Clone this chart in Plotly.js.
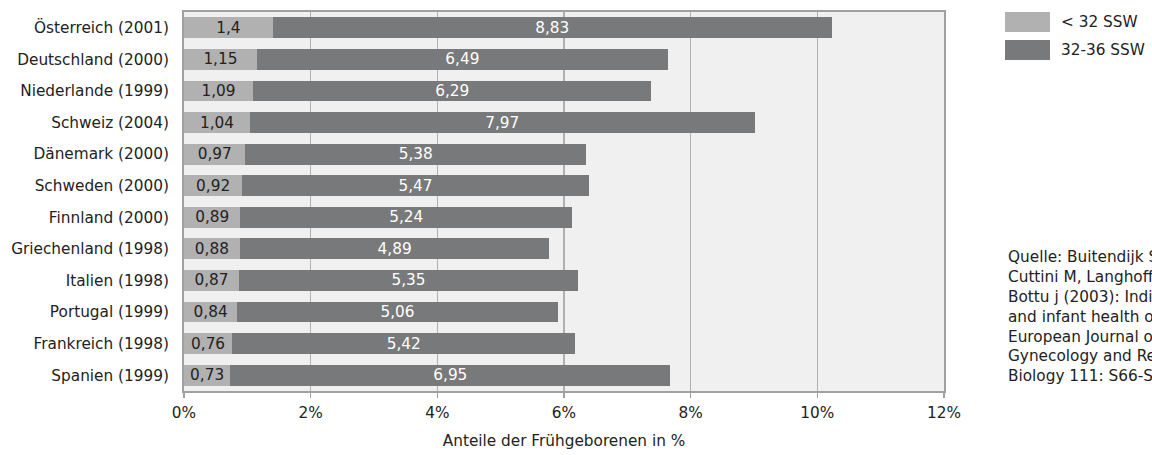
<!DOCTYPE html>
<html>
<head>
<meta charset="utf-8">
<script src="https://cdn.plot.ly/plotly-3.0.1.min.js"></script>
<style>html,body{margin:0;padding:0;background:#fff;}#chart{width:1152px;height:455px;}</style>
</head>
<body>
<div id="chart"></div>
<script>
var countries = ["Österreich (2001)","Deutschland (2000)","Niederlande (1999)","Schweiz (2004)","Dänemark (2000)","Schweden (2000)","Finnland (2000)","Griechenland (1998)","Italien (1998)","Portugal (1999)","Frankreich (1998)","Spanien (1999)"];
var under32 = [1.4,1.15,1.09,1.04,0.97,0.92,0.89,0.88,0.87,0.84,0.76,0.73];
var w32to36 = [8.83,6.49,6.29,7.97,5.38,5.47,5.24,4.89,5.35,5.06,5.42,6.95];
var seriesNames = ["< 32 SSW","32-36 SSW"];
var xTickVals = [0,2,4,6,8,10,12];
var xTickText = ["0%","2%","4%","6%","8%","10%","12%"];
var axisTitle = "Anteile der Frühgeborenen in %";
var sourceLines = ["Quelle: Buitendijk S, Zeitlin J,","Cuttini M, Langhoff-Roos J,","Bottu j (2003): Indicators of fetal","and infant health outcomes.","European Journal of Obstetrics,","Gynecology and Reproductive","Biology 111: S66-S77"];

var colLight = "#b1b1b1", colDark = "#78797a";
var FONT = "DejaVu Sans, sans-serif";
var FS = 15.3;
function fmt(v){ return String(v).replace('.', ','); }

var traces = [
  {type:'bar', orientation:'h', y:countries, x:under32, name:seriesNames[0],
   marker:{color:colLight, line:{width:0}}, text:under32.map(fmt), textposition:'inside',
   insidetextanchor:'middle', constraintext:'none', textangle:0,
   textfont:{family:FONT, size:FS, color:'#222'}, hoverinfo:'x+y', showlegend:false},
  {type:'bar', orientation:'h', y:countries, x:w32to36, name:seriesNames[1],
   marker:{color:colDark, line:{width:0}}, text:w32to36.map(fmt), textposition:'inside',
   insidetextanchor:'middle', constraintext:'none', textangle:0,
   textfont:{family:FONT, size:FS, color:'#ffffff'}, hoverinfo:'x+y', showlegend:false}
];

var L = 184, R = 944, T = 12, B = 391;
var W = R - L, H = B - T;
function px(x){ return (x - L)/W; }
function py(y){ return (B - y)/H; }

var layout = {
  width:1152, height:455,
  margin:{l:L, r:1152-R, t:T, b:455-B, pad:0},
  paper_bgcolor:'#ffffff', plot_bgcolor:'#eff0ef',
  barmode:'stack', bargap:0.34,
  font:{family:FONT, size:FS, color:'#222'},
  xaxis:{range:[0,12], tickvals:xTickVals, ticktext:xTickText, showgrid:true,
         gridcolor:'#b0b0b0', gridwidth:1.5, zeroline:false,
         showline:true, linecolor:'#a0a0a0', linewidth:2, mirror:true,
         ticks:'outside', ticklen:5, tickcolor:'#a0a0a0', tickwidth:1.5,
         ticklabelstandoff:2,
         tickfont:{family:FONT, size:FS, color:'#222'},
         title:{text:axisTitle, font:{family:FONT, size:FS, color:'#222'}, standoff:14},
         fixedrange:true},
  yaxis:{type:'category', autorange:'reversed', showgrid:false, zeroline:false,
         showline:true, linecolor:'#a0a0a0', linewidth:2, mirror:true,
         ticks:'', ticklabelstandoff:10,
         tickfont:{family:FONT, size:FS, color:'#222'}, fixedrange:true},
  shapes:[
    {type:'rect', xref:'paper', yref:'paper', x0:px(1005), x1:px(1050), y0:py(32), y1:py(12), fillcolor:colLight, line:{width:0}},
    {type:'rect', xref:'paper', yref:'paper', x0:px(1005), x1:px(1050), y0:py(60), y1:py(40), fillcolor:colDark, line:{width:0}}
  ],
  annotations:[
    {xref:'paper', yref:'paper', x:px(1059), y:py(22), xanchor:'left', yanchor:'middle', showarrow:false, text:seriesNames[0], font:{family:FONT, size:FS, color:'#222'}},
    {xref:'paper', yref:'paper', x:px(1059), y:py(50), xanchor:'left', yanchor:'middle', showarrow:false, text:seriesNames[1], font:{family:FONT, size:FS, color:'#222'}},
    {xref:'paper', yref:'paper', x:px(1006), y:py(246), xanchor:'left', yanchor:'top', align:'left', showarrow:false, text:sourceLines.join('<br>'), font:{family:FONT, size:FS, color:'#222'}}
  ]
};

Plotly.newPlot('chart', traces, layout, {displayModeBar:false, staticPlot:true});
</script>
</body>
</html>
